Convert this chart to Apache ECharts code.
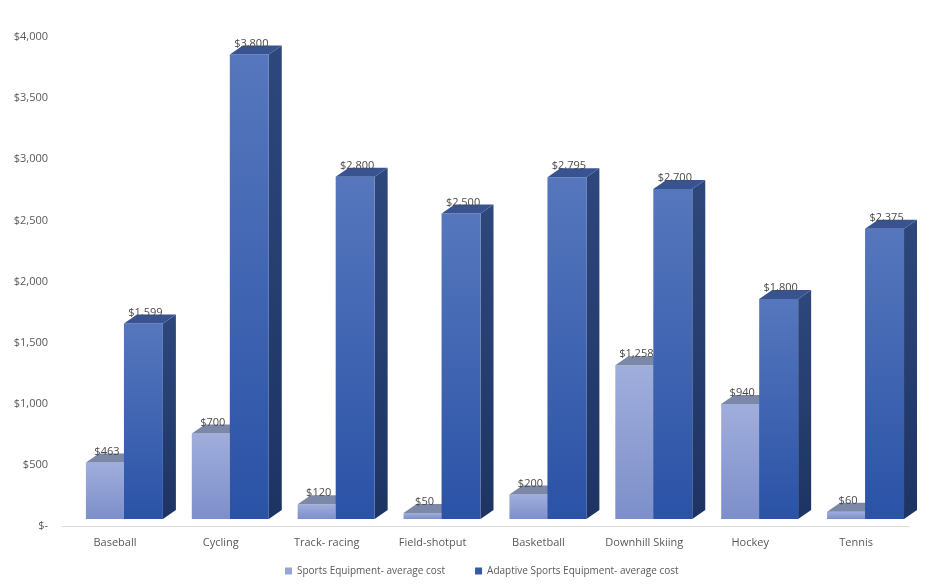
<!DOCTYPE html>
<html>
<head>
<meta charset="utf-8">
<script src="https://cdn.jsdelivr.net/npm/echarts@6/dist/echarts.min.js"></script>
<style>
  html, body { margin: 0; padding: 0; background: #fff; }
  #main { width: 945px; height: 588px; }
</style>
</head>
<body>
<div id="main"></div>
<script>
  var categories = ['Baseball', 'Cycling', 'Track- racing', 'Field-shotput', 'Basketball', 'Downhill Skiing', 'Hockey', 'Tennis'];
  var sportsCost = [463, 700, 120, 50, 200, 1258, 940, 60];
  var adaptiveCost = [1599, 3800, 2800, 2500, 2795, 2700, 1800, 2375];
  var seriesNames = ['Sports Equipment- average cost', 'Adaptive Sports Equipment- average cost'];

  var chart = echarts.init(document.getElementById('main'));

  var font = '"Open Sans", "Liberation Sans", sans-serif';
  var textColor = '#595959';

  // 3d look: depth offset of the top / side faces
  var DX = 13, DY = 9, LIFT = 7;

  function money(v) {
    return '$' + v.toLocaleString('en-US');
  }

  function makeRender(offL, offR, look) {
    return function (params, api) {
      var i = api.value(0), v = api.value(1);
      var p = api.coord([i, v]);
      var p0 = api.coord([i, 0]);
      var band = api.size([1, 0])[0];
      var x0 = p[0] + band * offL, x1 = p[0] + band * offR;
      var yTop = p[1] - LIFT, yBot = p0[1] - LIFT;
      return {
        type: 'group',
        children: [
          {
            type: 'polygon',
            shape: { points: [[x1, yTop], [x1 + DX, yTop - DY], [x1 + DX, yBot - DY], [x1, yBot]] },
            style: { fill: { type: 'linear', x: 0, y: 0, x2: 0, y2: 1, colorStops: [
              { offset: 0, color: look.side[0] }, { offset: 1, color: look.side[1] }] } }
          },
          {
            type: 'rect',
            shape: { x: x0, y: yTop, width: x1 - x0, height: yBot - yTop },
            style: { fill: { type: 'linear', x: 0, y: 0, x2: 0, y2: 1, colorStops: [
              { offset: 0, color: look.front[0] }, { offset: 1, color: look.front[1] }] } }
          },
          {
            type: 'polygon',
            shape: { points: [[x0, yTop], [x0 + DX, yTop - DY], [x1 + DX, yTop - DY], [x1, yTop]] },
            style: { fill: look.top }
          },
          {
            type: 'text',
            z2: 100,
            style: {
              x: (x0 + x1) / 2 + 2, y: yTop - 11,
              text: money(v), align: 'center', verticalAlign: 'middle',
              fill: '#4a4a4a', font: '11px ' + font
            }
          }
        ]
      };
    };
  }

  var lightLook = { front: ['#a0aedc', '#7d8fca'], side: ['#6f7fb0', '#5e6fa3'], top: '#7b88a8' };
  var darkLook = { front: ['#5677bd', '#2a52a6'], side: ['#2e477c', '#1d3463'], top: '#385390' };

  var option = {
    animation: false,
    grid: { left: 62, right: 36, top: 37, bottom: 62 },
    legend: {
      left: 280, top: 561,
      icon: 'rect', itemWidth: 7, itemHeight: 7, itemGap: 30, itemStyle: { borderWidth: 0 },
      textStyle: { color: textColor, fontSize: 10, fontFamily: font },
      data: seriesNames
    },
    xAxis: {
      type: 'category',
      data: categories,
      axisLine: { lineStyle: { color: '#d9d9d9' } },
      axisTick: { show: false },
      axisLabel: { color: textColor, fontSize: 11, fontFamily: font, margin: 11 }
    },
    yAxis: {
      type: 'value',
      min: 0, max: 4000, interval: 500,
      splitLine: { show: false },
      axisLine: { show: false },
      axisLabel: {
        color: textColor, fontSize: 11, fontFamily: font, margin: 14,
        formatter: function (v) { return v === 0 ? '$-' : money(v); }
      }
    },
    series: [
      {
        name: seriesNames[0],
        type: 'custom',
        itemStyle: { color: '#95a5d8' },
        encode: { x: 0, y: 1 },
        data: sportsCost.map(function (v, i) { return [i, v]; }),
        renderItem: makeRender(-0.274, 0.085, lightLook)
      },
      {
        name: seriesNames[1],
        type: 'custom',
        itemStyle: { color: '#3558a8' },
        encode: { x: 0, y: 1 },
        data: adaptiveCost.map(function (v, i) { return [i, v]; }),
        renderItem: makeRender(0.085, 0.453, darkLook)
      }
    ]
  };

  chart.setOption(option);
</script>
</body>
</html>
